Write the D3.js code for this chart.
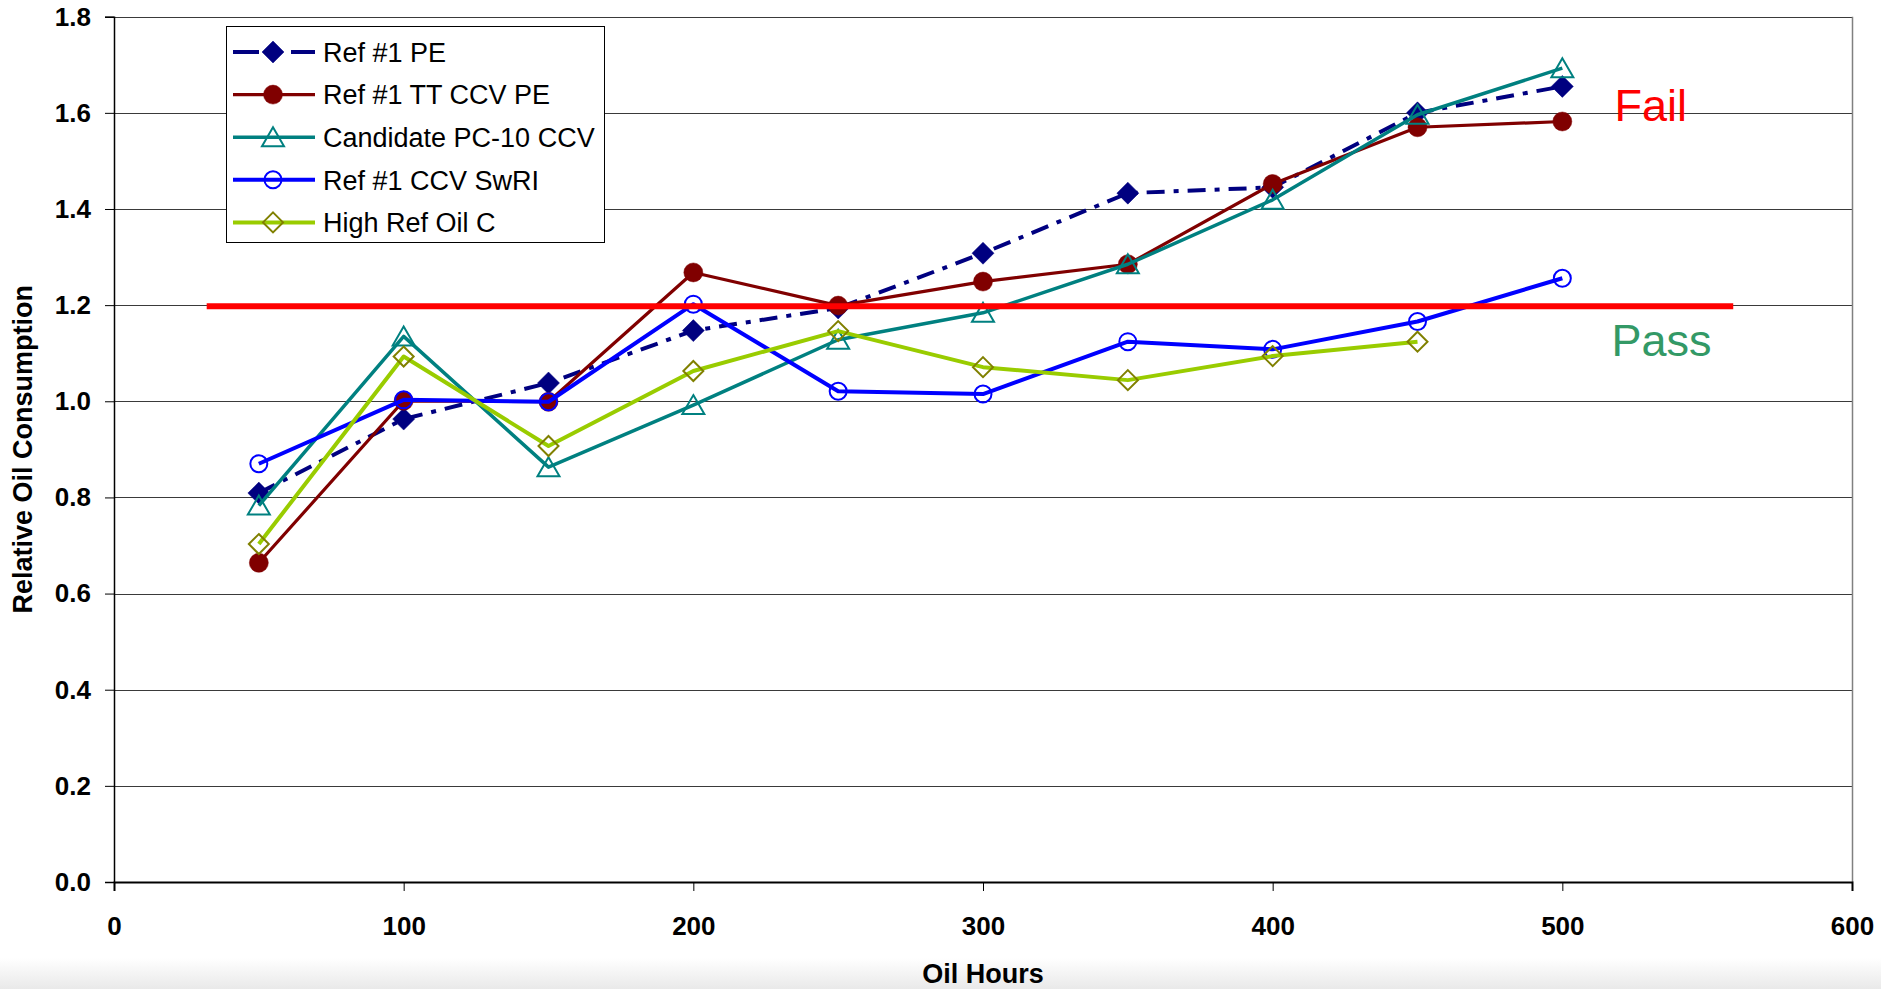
<!DOCTYPE html>
<html>
<head>
<meta charset="utf-8">
<script src="https://cdn.jsdelivr.net/npm/d3@7"></script>
<style>
  html, body { margin: 0; padding: 0; background: #fff; }
  svg { display: block; font-family: "Liberation Sans", Arial, sans-serif; }
</style>
</head>
<body>
<svg id="chart" width="1881" height="989"></svg>
<script>
// Oil hours at which each measurement was taken
const hours = [50, 100, 150, 200, 250, 300, 350, 400, 450, 500];

// Relative oil consumption per series
const refPE      = [0.809, 0.963, 1.038, 1.147, 1.194, 1.308, 1.433, 1.445, 1.600, 1.655];
const refTTCCVPE = [0.664, 1.001, 0.999, 1.268, 1.199, 1.249, 1.285, 1.452, 1.570, 1.582];
const candidate  = [0.783, 1.135, 0.863, 0.992, 1.128, 1.184, 1.285, 1.419, 1.596, 1.693];
const refSwRI    = [0.870, 1.003, 0.999, 1.202, 1.021, 1.015, 1.124, 1.108, 1.166, 1.256];
const highRefC   = [0.703, 1.093, 0.907, 1.063, 1.146, 1.071, 1.044, 1.094, 1.124];

const seriesNames = ["Ref #1 PE", "Ref #1 TT CCV PE", "Candidate PC-10 CCV", "Ref #1 CCV SwRI", "High Ref Oil C"];

// Axis ticks
const xTicks = [0, 100, 200, 300, 400, 500, 600];
const yTicks = [0, 0.2, 0.4, 0.6, 0.8, 1.0, 1.2, 1.4, 1.6, 1.8];

// Pass/fail limit line (hours span, level)
const limitHours = [32, 559];
const limitLevel = 1.2;

// Zone labels: [text, hours, level, colour]
const zoneLabels = [
  ["Fail", 518, 1.582, "#ff0000"],
  ["Pass", 517, 1.094, "#339966"]
];

const svg = d3.select("#chart");
const W = 1881, H = 989;
const plot = { left: 114, right: 1852, top: 16.7, bottom: 882 };

const x = d3.scaleLinear().domain([0, 600]).range([plot.left, plot.right]);
const y = d3.scaleLinear().domain([0, 1.8]).range([plot.bottom, plot.top]);

// Background and faint shading along the bottom edge
const defs = svg.append("defs");
const grad = defs.append("linearGradient").attr("id", "bottomShade")
  .attr("x1", 0).attr("y1", 0).attr("x2", 0).attr("y2", 1);
grad.append("stop").attr("offset", "0%").attr("stop-color", "#ffffff");
grad.append("stop").attr("offset", "100%").attr("stop-color", "#e9e9e9");
svg.append("rect").attr("width", W).attr("height", H).attr("fill", "#fff");
svg.append("rect").attr("x", 0).attr("y", 958).attr("width", W).attr("height", H - 958)
  .attr("fill", "url(#bottomShade)");

// Horizontal gridlines
svg.append("g").selectAll("line").data(yTicks.filter(d => d > 0)).join("line")
  .attr("x1", plot.left).attr("x2", plot.right)
  .attr("y1", d => Math.round(y(d)) + 0.5).attr("y2", d => Math.round(y(d)) + 0.5)
  .attr("stroke", "#3a3a3a").attr("stroke-width", 1);

// Right border of plot area
svg.append("line")
  .attr("x1", plot.right + 0.5).attr("x2", plot.right + 0.5)
  .attr("y1", y(1.8)).attr("y2", plot.bottom)
  .attr("stroke", "#808080").attr("stroke-width", 1.5);

// Axes
const yAxis = d3.axisLeft(y).tickValues(yTicks).tickFormat(d3.format(".1f"))
  .tickSize(9).tickPadding(14);
const gy = svg.append("g").attr("transform", `translate(${plot.left},0)`).call(yAxis);
gy.select(".domain").attr("stroke", "#000").attr("stroke-width", 1.5);
gy.selectAll(".tick line").attr("stroke", "#000").attr("stroke-width", 1);
gy.selectAll("text").attr("font-size", 26).attr("font-weight", "bold").attr("fill", "#000")
  .attr("font-family", "'Liberation Sans', Arial, sans-serif");

const xAxis = d3.axisBottom(x).tickValues(xTicks).tickFormat(d3.format("d"))
  .tickSize(9).tickPadding(26);
const gx = svg.append("g").attr("transform", `translate(0,${plot.bottom})`).call(xAxis);
gx.select(".domain").attr("stroke", "#000").attr("stroke-width", 2);
gx.selectAll(".tick line").attr("stroke", "#000").attr("stroke-width", 1);
gx.selectAll("text").attr("font-size", 26).attr("font-weight", "bold").attr("fill", "#000")
  .attr("font-family", "'Liberation Sans', Arial, sans-serif");

// Axis titles
svg.append("text")
  .attr("x", (plot.left + plot.right) / 2).attr("y", 983)
  .attr("text-anchor", "middle").attr("font-size", 27).attr("font-weight", "bold")
  .text("Oil Hours");
svg.append("text")
  .attr("transform", `translate(32,${(plot.top + plot.bottom) / 2}) rotate(-90)`)
  .attr("text-anchor", "middle").attr("font-size", 27).attr("font-weight", "bold")
  .text("Relative Oil Consumption");

// Marker shapes
const diamondType = { draw(ctx, r) { ctx.moveTo(0, -r); ctx.lineTo(r, 0); ctx.lineTo(0, r); ctx.lineTo(-r, 0); ctx.closePath(); } };
const circleType = { draw(ctx, r) { ctx.moveTo(r, 0); ctx.arc(0, 0, r, 0, 2 * Math.PI); } };
const triangleType = { draw(ctx, r) { ctx.moveTo(0, -r); ctx.lineTo(r * 1.1, r * 0.9); ctx.lineTo(-r * 1.1, r * 0.9); ctx.closePath(); } };

const series = [
  { name: seriesNames[0], values: refPE, line: "#000080", width: 4, dash: "18,9,5,9",
    shape: diamondType, size: 11, fill: "#000080", stroke: "#000080", sw: 0.5 },
  { name: seriesNames[1], values: refTTCCVPE, line: "#800000", width: 3.2, dash: null,
    shape: circleType, size: 9.5, fill: "#800000", stroke: "#800000", sw: 0.5 },
  { name: seriesNames[2], values: candidate, line: "#008080", width: 3.5, dash: null,
    shape: triangleType, size: 10, fill: "none", stroke: "#008080", sw: 2 },
  { name: seriesNames[3], values: refSwRI, line: "#0000ff", width: 4, dash: null,
    shape: circleType, size: 8.5, fill: "none", stroke: "#0000ff", sw: 2 },
  { name: seriesNames[4], values: highRefC, line: "#99cc00", width: 4, dash: null,
    shape: diamondType, size: 10, fill: "none", stroke: "#808000", sw: 2 }
];

const lineGen = d3.line().x((d, i) => x(hours[i])).y(d => y(d));

const gSeries = svg.append("g");
series.forEach(s => {
  const g = gSeries.append("g");
  g.append("path").datum(s.values)
    .attr("d", lineGen)
    .attr("fill", "none").attr("stroke", s.line).attr("stroke-width", s.width)
    .attr("stroke-linejoin", "round")
    .attr("stroke-dasharray", s.dash);
  g.selectAll("path.mk").data(s.values).join("path").attr("class", "mk")
    .attr("transform", (d, i) => `translate(${x(hours[i])},${y(d)})`)
    .attr("d", d3.symbol().type(s.shape).size(s.size))
    .attr("fill", s.fill).attr("stroke", s.stroke).attr("stroke-width", s.sw);
});

// Pass/fail limit
svg.append("line")
  .attr("x1", x(limitHours[0])).attr("x2", x(limitHours[1]))
  .attr("y1", y(limitLevel) + 1).attr("y2", y(limitLevel) + 1)
  .attr("stroke", "#ff0000").attr("stroke-width", 6);

// Zone labels
svg.append("g").selectAll("text").data(zoneLabels).join("text")
  .attr("x", d => x(d[1])).attr("y", d => y(d[2]))
  .attr("font-size", 45).attr("fill", d => d[3])
  .text(d => d[0]);

// Legend
const legend = svg.append("g").attr("transform", "translate(226,26)");
legend.append("rect").attr("x", 0.5).attr("y", 0.5).attr("width", 378).attr("height", 216)
  .attr("fill", "#fff").attr("stroke", "#000").attr("stroke-width", 1);
const rows = legend.selectAll("g.row").data(series).join("g").attr("class", "row")
  .attr("transform", (d, i) => `translate(0,${26 + i * 42.6})`);
rows.append("line").attr("x1", 7).attr("x2", 89).attr("y1", 0).attr("y2", 0)
  .attr("stroke", d => d.line).attr("stroke-width", d => d.width)
  .attr("stroke-dasharray", d => d.dash ? "26,14,6,12" : null);
rows.append("path").attr("transform", "translate(47,0)")
  .attr("d", d => d3.symbol().type(d.shape).size(d.size)())
  .attr("fill", d => d.fill).attr("stroke", d => d.stroke).attr("stroke-width", d => d.sw);
rows.append("text").attr("x", 97).attr("y", 0).attr("dy", "0.36em")
  .attr("font-size", 27).attr("fill", "#000").text(d => d.name);
</script>
</body>
</html>
